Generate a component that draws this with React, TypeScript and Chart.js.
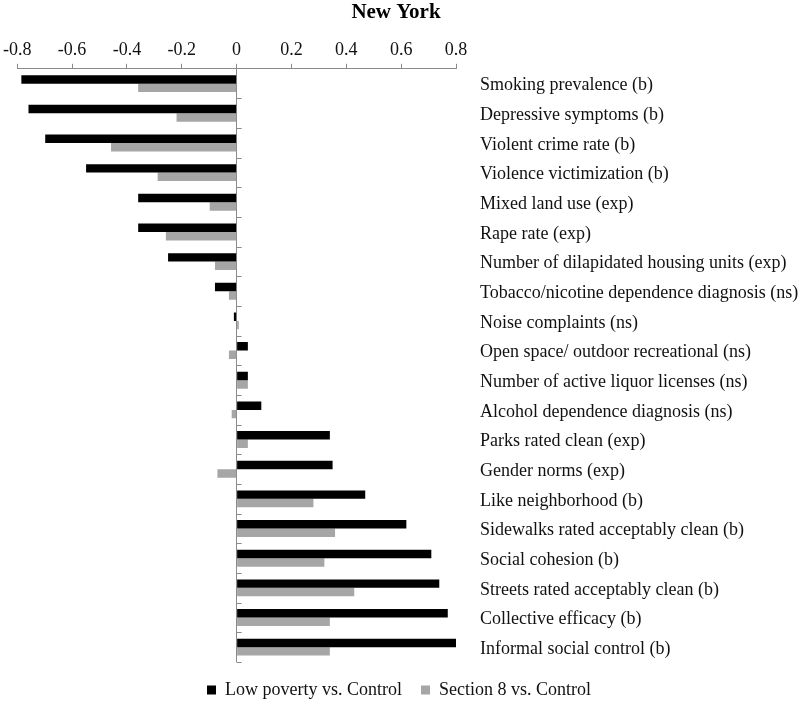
import React, { useEffect, useRef } from "react";
import { Chart, registerables } from "chart.js";

Chart.register(...registerables);

const TITLE = "New York";

const categories = [
  "Smoking prevalence (b)",
  "Depressive symptoms (b)",
  "Violent crime rate (b)",
  "Violence victimization (b)",
  "Mixed land use (exp)",
  "Rape rate (exp)",
  "Number of dilapidated housing units (exp)",
  "Tobacco/nicotine dependence diagnosis (ns)",
  "Noise complaints (ns)",
  "Open space/ outdoor recreational (ns)",
  "Number of active liquor licenses (ns)",
  "Alcohol dependence diagnosis (ns)",
  "Parks rated clean (exp)",
  "Gender norms (exp)",
  "Like neighborhood (b)",
  "Sidewalks rated acceptably clean (b)",
  "Social cohesion (b)",
  "Streets rated acceptably clean (b)",
  "Collective efficacy (b)",
  "Informal social control (b)",
];

const lowPovertyLabel = "Low poverty vs. Control";
const lowPoverty = [
  -0.785, -0.759, -0.698, -0.549, -0.359, -0.359, -0.25, -0.079, -0.01, 0.041,
  0.041, 0.09, 0.34, 0.35, 0.469, 0.619, 0.71, 0.739, 0.77, 0.8,
];

const section8Label = "Section 8 vs. Control";
const section8 = [
  -0.359, -0.219, -0.458, -0.288, -0.098, -0.258, -0.079, -0.028, 0.008, -0.028,
  0.041, -0.018, 0.041, -0.07, 0.28, 0.359, 0.32, 0.429, 0.34, 0.34,
];

const xTicks = [-0.8, -0.6, -0.4, -0.2, 0, 0.2, 0.4, 0.6, 0.8];

const FONT = "'Liberation Serif', 'Times New Roman', serif";
const AXIS_GRAY = "#8a8a8a";

const zeroTicksPlugin = {
  id: "zeroTicks",
  afterLayout(chart: any) {
    // centre title and legend horizontally like the reference
    if (chart.titleBlock) {
      chart.titleBlock.left = 0;
      chart.titleBlock.right = 792;
    }
    if (chart.legend) {
      chart.legend.left = 0;
      chart.legend.right = 798;
    }
  },
  afterDatasetsDraw(chart: any) {
    const { ctx } = chart;
    const x = chart.scales.x;
    const y = chart.scales.y;
    const x0 = x.getPixelForValue(0);
    const n = categories.length;
    ctx.save();
    ctx.strokeStyle = AXIS_GRAY;
    ctx.lineWidth = 1;
    for (let i = 0; i < n; i++) {
      const yy =
        i + 1 < n ? (y.getPixelForValue(i) + y.getPixelForValue(i + 1)) / 2 : y.bottom;
      ctx.beginPath();
      ctx.moveTo(x0, Math.round(yy) + 0.5);
      ctx.lineTo(x0 + 5, Math.round(yy) + 0.5);
      ctx.stroke();
    }
    ctx.restore();
  },
};

export default function App() {
  const ref = useRef<HTMLCanvasElement | null>(null);

  useEffect(() => {
    if (!ref.current) return;
    const chart = new Chart(ref.current, {
      type: "bar",
      data: {
        labels: categories,
        datasets: [
          {
            label: lowPovertyLabel,
            data: lowPoverty,
            backgroundColor: "#000000",
            borderWidth: 0,
          },
          {
            label: section8Label,
            data: section8,
            backgroundColor: "#a6a6a6",
            borderWidth: 0,
          },
        ],
      },
      options: {
        indexAxis: "y",
        responsive: false,
        animation: false,
        datasets: {
          bar: { categoryPercentage: 0.57, barPercentage: 1.0 },
        },
        layout: { padding: { left: 16.5, right: 0, top: 0, bottom: 2 } },
        scales: {
          x: {
            position: "top",
            min: -0.8,
            max: 0.8,
            afterBuildTicks: (axis: any) => {
              axis.ticks = xTicks.map((v) => ({ value: v }));
            },
            ticks: {
              font: { family: FONT, size: 18 },
              color: "#111111",
              padding: 3,
              maxRotation: 0,
              autoSkip: false,
              callback: (v: any) => {
                const n = Number(v);
                return Math.abs(n) < 1e-9 ? "0" : n.toFixed(1);
              },
            },
            grid: {
              color: (c: any) =>
                c.tick && Math.abs(c.tick.value) < 1e-9 ? AXIS_GRAY : "rgba(0,0,0,0)",
              tickColor: AXIS_GRAY,
              tickLength: 5,
              drawTicks: true,
            },
            border: { display: true, color: AXIS_GRAY },
          },
          y: {
            position: "right",
            afterFit: (scale: any) => {
              scale.width = 344;
            },
            ticks: {
              font: { family: FONT, size: 18 },
              color: "#111111",
              padding: 16,
              labelOffset: 2,
              autoSkip: false,
            },
            grid: { display: false },
            border: { display: false },
          },
        },
        plugins: {
          title: {
            display: true,
            text: TITLE,
            font: { family: FONT, size: 21, weight: "bold" },
            color: "#000000",
            padding: { top: 0, bottom: 11 },
          },
          legend: {
            position: "bottom",
            labels: {
              font: { family: FONT, size: 18 },
              color: "#111111",
              boxWidth: 9,
              boxHeight: 9,
              padding: 19,
            },
          },
          tooltip: { enabled: false },
        },
      },
      plugins: [zeroTicksPlugin],
    } as any);
    return () => chart.destroy();
  }, []);

  return (
    <div
      style={{
        position: "absolute",
        left: 0,
        top: 0,
        width: 800,
        height: 711,
        background: "#ffffff",
      }}
    >
      <canvas ref={ref} width={800} height={711} style={{ display: "block" }} />
    </div>
  );
}
